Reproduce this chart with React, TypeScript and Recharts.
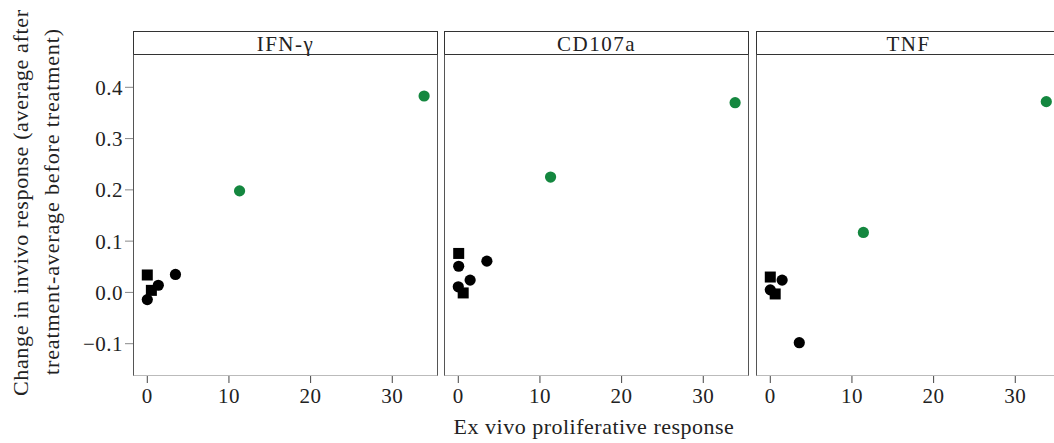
import React from "react";
import { ScatterChart, Scatter, XAxis, YAxis } from "recharts";

// ---- data ----
const panelTitles = ["IFN-γ", "CD107a", "TNF"];
const xTicks = [0, 10, 20, 30];
const yTicks = [-0.1, 0, 0.1, 0.2, 0.3, 0.4];

const ifnBlackCircles = [
  { x: 0, y: -0.014 },
  { x: 1.35, y: 0.014 },
  { x: 3.45, y: 0.035 },
];
const ifnBlackSquares = [
  { x: 0, y: 0.034 },
  { x: 0.5, y: 0.004 },
];
const ifnGreen = [
  { x: 11.3, y: 0.198 },
  { x: 33.9, y: 0.383 },
];

const cdBlackCircles = [
  { x: 0.05, y: 0.051 },
  { x: 0.0, y: 0.011 },
  { x: 1.45, y: 0.024 },
  { x: 3.5, y: 0.061 },
];
const cdBlackSquares = [
  { x: 0.05, y: 0.076 },
  { x: 0.6, y: -0.001 },
];
const cdGreen = [
  { x: 11.3, y: 0.225 },
  { x: 33.9, y: 0.37 },
];

const tnfBlackCircles = [
  { x: 0.0, y: 0.005 },
  { x: 1.45, y: 0.024 },
  { x: 3.55, y: -0.098 },
];
const tnfBlackSquares = [
  { x: 0.0, y: 0.03 },
  { x: 0.6, y: -0.003 },
];
const tnfGreen = [
  { x: 11.4, y: 0.117 },
  { x: 33.8, y: 0.372 },
];

const panelData = [
  { circles: ifnBlackCircles, squares: ifnBlackSquares, green: ifnGreen },
  { circles: cdBlackCircles, squares: cdBlackSquares, green: cdGreen },
  { circles: tnfBlackCircles, squares: tnfBlackSquares, green: tnfGreen },
];

// ---- style ----
const FONT = "'Liberation Serif', serif";
const GREEN = "#14873f";
const X_DOMAIN: [number, number] = [-1.75, 35.6];
const Y_DOMAIN: [number, number] = [-0.163, 0.463];
const PLOT_TOP = 55;
const PLOT_H = 321;
const PLOT_W = 305;
const Y_AXIS_W = 133;
const panelLefts = [133, 444, 756];

const fmtY = (v: number) => (v < 0 ? "\u2212" + Math.abs(v).toFixed(1) : v.toFixed(1));

const circleShape = (color: string) => (props: any) => (
  <circle cx={props.cx} cy={props.cy} r={5.6} fill={color} />
);
const squareShape = (color: string) => (props: any) => (
  <rect x={props.cx - 5.5} y={props.cy - 5.5} width={11} height={11} fill={color} />
);

const tickStyle = { fontFamily: FONT, fontSize: 21, fill: "#222", letterSpacing: 0.5 };

function Panel({ idx }: { idx: number }) {
  const first = idx === 0;
  const d = panelData[idx];
  const chartLeft = first ? 0 : panelLefts[idx];
  const width = first ? Y_AXIS_W + PLOT_W : PLOT_W;
  return (
    <div style={{ position: "absolute", left: chartLeft, top: 0 }}>
      <ScatterChart
        width={width}
        height={PLOT_TOP + PLOT_H + 45}
        margin={{ top: PLOT_TOP, right: 0, bottom: 0, left: 0 }}
      >
        <XAxis
          type="number"
          dataKey="x"
          domain={X_DOMAIN}
          ticks={xTicks}
          allowDataOverflow
          axisLine={false}
          tickLine={{ stroke: "#444", strokeWidth: 1 }}
          tickSize={7}
          tickMargin={5}
          height={45}
          tick={tickStyle}
        />
        <YAxis
          type="number"
          dataKey="y"
          domain={Y_DOMAIN}
          ticks={yTicks}
          allowDataOverflow
          hide={!first}
          width={Y_AXIS_W}
          axisLine={false}
          tickLine={{ stroke: "#888", strokeWidth: 1 }}
          tickSize={8}
          tickMargin={2}
          tickFormatter={fmtY}
          tick={tickStyle}
        />
        <Scatter data={d.squares} shape={squareShape("#000")} isAnimationActive={false} />
        <Scatter data={d.circles} shape={circleShape("#000")} isAnimationActive={false} />
        <Scatter data={d.green} shape={circleShape(GREEN)} isAnimationActive={false} />
      </ScatterChart>
    </div>
  );
}

export default function App() {
  return (
    <div
      style={{
        position: "absolute",
        left: 0,
        top: 0,
        width: 1054,
        height: 443,
        overflow: "hidden",
        background: "#fff",
        fontFamily: FONT,
        color: "#222",
      }}
    >
      {panelTitles.map((t, i) => (
        <React.Fragment key={t}>
          {/* strip header */}
          <div
            style={{
              position: "absolute",
              left: panelLefts[i],
              top: 31,
              width: PLOT_W,
              height: 24,
              boxSizing: "border-box",
              border: "1.5px solid #333",
              textAlign: "center",
              fontSize: 21,
              letterSpacing: 1.5,
              lineHeight: "24px",
            }}
          >
            {t}
          </div>
          {/* panel frame */}
          <div
            style={{
              position: "absolute",
              left: panelLefts[i],
              top: PLOT_TOP - 1,
              width: PLOT_W,
              height: PLOT_H + 1,
              boxSizing: "border-box",
              borderLeft: "1.5px solid #555",
              borderRight: "1.5px solid #555",
              borderTop: "1.5px solid #333",
              borderBottom: "1.5px solid #bbb",
              pointerEvents: "none",
            }}
          />
        </React.Fragment>
      ))}
      {[0, 1, 2].map((i) => (
        <Panel key={i} idx={i} />
      ))}
      {/* y axis title */}
      <svg
        width={70}
        height={443}
        style={{ position: "absolute", left: 0, top: 0 }}
      >
        <text
          transform="translate(28,203) rotate(-90)"
          textAnchor="middle"
          fontFamily={FONT}
          fontSize={22}
          fill="#222"
          textLength={386}
          lengthAdjust="spacing"
        >
          Change in invivo response (average after
        </text>
        <text
          transform="translate(59,202) rotate(-90)"
          textAnchor="middle"
          fontFamily={FONT}
          fontSize={22}
          fill="#222"
          textLength={346}
          lengthAdjust="spacing"
        >
          treatment-average before treatment)
        </text>
      </svg>
      {/* x axis title */}
      <div
        style={{
          position: "absolute",
          left: 0,
          width: 1188,
          top: 415,
          textAlign: "center",
          fontSize: 22,
          letterSpacing: 0.5,
          lineHeight: "24px",
        }}
      >
        Ex vivo proliferative response
      </div>
    </div>
  );
}
